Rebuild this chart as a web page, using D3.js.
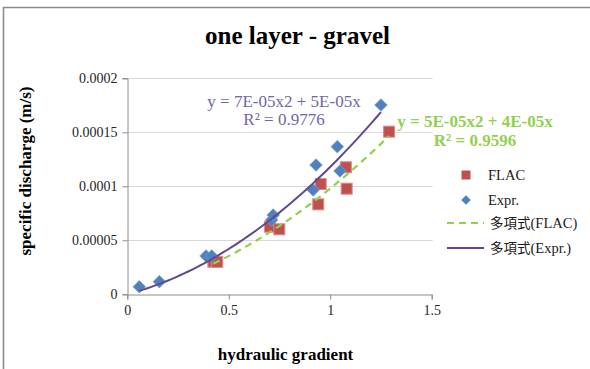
<!DOCTYPE html>
<html>
<head>
<meta charset="utf-8">
<script src="https://cdn.jsdelivr.net/npm/d3@7"></script>
<style>
  html, body { margin: 0; padding: 0; background: #fff; }
  svg { display: block; }
</style>
</head>
<body>
<svg id="chart" width="590" height="369"></svg>
<script>
// Measured hydraulic gradient / specific discharge pairs
const flacX = [0.424, 0.443, 0.703, 0.749, 0.941, 0.953, 1.077, 1.081, 1.290];
const flacY = [3.02e-5, 3.0e-5, 6.26e-5, 6.02e-5, 8.33e-5, 1.021e-4, 1.176e-4, 9.78e-5, 1.506e-4];

const exprX = [0.059, 0.158, 0.388, 0.416, 0.711, 0.719, 0.916, 0.930, 1.035, 1.048, 1.250];
const exprY = [7.0e-6, 1.17e-5, 3.55e-5, 3.55e-5, 6.88e-5, 7.34e-5, 9.66e-5, 1.197e-4, 1.367e-4, 1.142e-4, 1.753e-4];

// Second-order polynomial trendlines (y = a*x^2 + b*x), zero intercept
const flacFit = [5.4e-5, 4.4e-5];
const exprFit = [6.8e-5, 5.0e-5];
const flacLabel = ["y = 5E-05x2 + 4E-05x", "R\u00B2 = 0.9596"];
const exprLabel = ["y = 7E-05x2 + 5E-05x", "R\u00B2 = 0.9776"];

const xTicks = [0, 0.5, 1, 1.5];
const xTickLabels = ["0", "0.5", "1", "1.5"];
const yTicks = [0, 0.00005, 0.0001, 0.00015, 0.0002];
const yTickLabels = ["0", "0.00005", "0.0001", "0.00015", "0.0002"];

const legendItems = ["FLAC", "Expr.", "多項式(FLAC)", "多項式(Expr.)"];

const SERIF = "'Liberation Serif', 'Times New Roman', serif";
const CJK = "'Noto Sans CJK TC', 'Noto Sans CJK JP', sans-serif";

const svg = d3.select("#chart").style("font-family", SERIF);

const x = d3.scaleLinear().domain([0, 1.5]).range([127.3, 431.7]);
const y = d3.scaleLinear().domain([0, 0.0002]).range([294.3, 78.3]);

// Outer chart frame (top and left edges)
svg.append("path")
  .attr("d", "M3.5,369 L3.5,7.5 L590,7.5")
  .attr("fill", "none").attr("stroke", "#8c8c8c").attr("stroke-width", 1.6);

// Horizontal gridlines
svg.append("g").selectAll("line")
  .data(yTicks.slice(1))
  .join("line")
  .attr("x1", x(0)).attr("x2", x(1.5) + 1)
  .attr("y1", d => Math.round(y(d)) + 0.5).attr("y2", d => Math.round(y(d)) + 0.5)
  .attr("stroke", "#d9d9d9").attr("stroke-width", 1.2);

// Y axis
const yAxis = d3.axisLeft(y).tickValues(yTicks).tickSize(5).tickPadding(5)
  .tickFormat((d, i) => yTickLabels[i]);
const gy = svg.append("g").attr("transform", `translate(${Math.round(x(0)) + 0.5},0)`).call(yAxis);
gy.attr("font-family", SERIF).attr("font-size", 14);
gy.select(".domain").attr("stroke", "#8c8c8c");
gy.selectAll(".tick line").attr("stroke", "#8c8c8c");
gy.selectAll(".tick text").attr("fill", "#262626");

// X axis
const xAxis = d3.axisBottom(x).tickValues(xTicks).tickSize(5).tickPadding(6)
  .tickFormat((d, i) => xTickLabels[i]);
const gx = svg.append("g").attr("transform", `translate(0,${Math.round(y(0)) + 0.5})`).call(xAxis);
gx.attr("font-family", SERIF).attr("font-size", 14);
gx.select(".domain").attr("stroke", "#8c8c8c");
gx.selectAll(".tick line").attr("stroke", "#8c8c8c");
gx.selectAll(".tick text").attr("fill", "#262626");

// FLAC markers (squares)
const sq = 11;
svg.append("g").selectAll("rect")
  .data(flacX.map((d, i) => [d, flacY[i]]))
  .join("rect")
  .attr("x", d => x(d[0]) - sq / 2).attr("y", d => y(d[1]) - sq / 2)
  .attr("width", sq).attr("height", sq)
  .attr("fill", "#c0504d").attr("stroke", "#d98c8a").attr("stroke-width", 1);

// Expr. markers (diamonds)
const dm = 6.3;
const diamond = (cx, cy, r) => `M${cx},${cy - r}L${cx + r},${cy}L${cx},${cy + r}L${cx - r},${cy}Z`;
svg.append("g").selectAll("path")
  .data(exprX.map((d, i) => [d, exprY[i]]))
  .join("path")
  .attr("d", d => diamond(x(d[0]), y(d[1]), dm))
  .attr("fill", "#4f81bd").attr("stroke", "#7aa0d0").attr("stroke-width", 0.8);

// Trendlines over the data range of each series
function curve(fit, xs) {
  const lo = d3.min(xs), hi = d3.max(xs);
  const pts = d3.range(0, 61).map(i => {
    const t = lo + (hi - lo) * i / 60;
    return [t, fit[0] * t * t + fit[1] * t];
  });
  return d3.line().x(d => x(d[0])).y(d => y(d[1]))(pts);
}

svg.append("path").attr("d", curve(flacFit, flacX))
  .attr("fill", "none").attr("stroke", "#92d050").attr("stroke-width", 2.2)
  .attr("stroke-dasharray", "7,5");

svg.append("path").attr("d", curve(exprFit, exprX))
  .attr("fill", "none").attr("stroke", "#604a8b").attr("stroke-width", 2);

// Trendline equations
svg.append("g").selectAll("text").data(exprLabel).join("text")
  .attr("x", 284).attr("y", (d, i) => i === 0 ? 106.5 : 124.5)
  .attr("text-anchor", "middle").attr("font-size", 17).attr("fill", "#7464a8")
  .text(d => d);

svg.append("g").selectAll("text").data(flacLabel).join("text")
  .attr("x", 475).attr("y", (d, i) => i === 0 ? 126.5 : 145.5)
  .attr("text-anchor", "middle").attr("font-size", 17).attr("font-weight", "bold")
  .attr("fill", "#92d050")
  .text(d => d);

// Title and axis titles
svg.append("text").attr("x", 297.5).attr("y", 44)
  .attr("text-anchor", "middle").attr("font-size", 25).attr("font-weight", "bold")
  .attr("fill", "#000").text("one layer - gravel");

svg.append("text").attr("x", 285.5).attr("y", 360)
  .attr("text-anchor", "middle").attr("font-size", 17).attr("font-weight", "bold")
  .attr("fill", "#000").text("hydraulic gradient");

svg.append("text").attr("transform", "translate(31,171) rotate(-90)")
  .attr("text-anchor", "middle").attr("font-size", 17).attr("font-weight", "bold")
  .attr("fill", "#000").text("specific discharge (m/s)");

// Legend
const lg = svg.append("g");
const rowY = [175, 200, 223, 248];
lg.append("rect").attr("x", 466 - 4.5).attr("y", rowY[0] - 4.5).attr("width", 9).attr("height", 9)
  .attr("fill", "#c0504d");
lg.append("path").attr("d", diamond(466, rowY[1], 4.8)).attr("fill", "#4f81bd");
lg.append("line").attr("x1", 447).attr("x2", 484).attr("y1", rowY[2]).attr("y2", rowY[2])
  .attr("stroke", "#92d050").attr("stroke-width", 2.2).attr("stroke-dasharray", "7,5");
lg.append("line").attr("x1", 447).attr("x2", 484).attr("y1", rowY[3]).attr("y2", rowY[3])
  .attr("stroke", "#604a8b").attr("stroke-width", 2);

lg.selectAll("text").data(legendItems).join("text")
  .attr("x", (d, i) => i < 2 ? 488 : 490)
  .attr("y", (d, i) => rowY[i])
  .attr("dy", "0.35em")
  .attr("font-size", 14.5)
  .attr("fill", "#1a1a1a")
  .each(function(d) {
    // CJK prefix in a CJK face, the rest in the serif face
    const m = d.match(/^([^\x00-\x7F]*)(.*)$/);
    const t = d3.select(this);
    if (m[1]) {
      t.append("tspan").style("font-family", CJK).attr("font-size", 13.5).text(m[1]);
    }
    t.append("tspan").text(m[2]);
  });
</script>
</body>
</html>
